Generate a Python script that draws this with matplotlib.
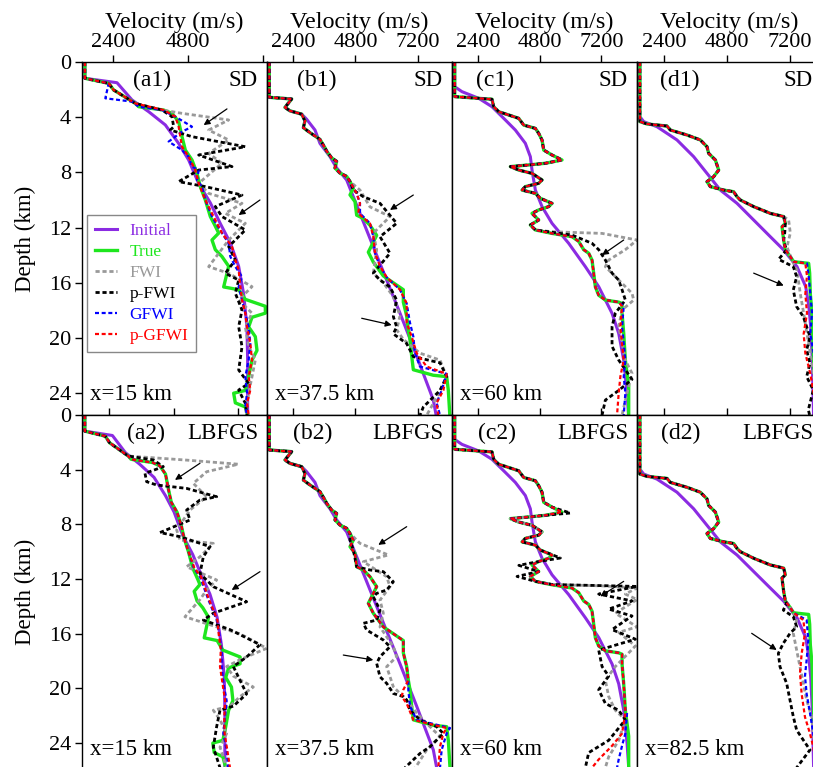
import matplotlib
matplotlib.use("Agg")
import matplotlib.pyplot as plt

plt.rcParams['font.family'] = ['Liberation Serif', 'DejaVu Serif']

# ---------------- column a (x = 15 km) ----------------
a_top_z = [0, 1.18, 1.55, 2.03, 3.0]
a_top_v = [1500, 1500, 2262, 2422, 3115]
a_mid_z = [3.24, 3.48, 3.72, 4.32, 5.41, 6.38, 7.10, 8.07, 9.03, 10.0]
a_mid_v = [3222, 4022, 4289, 4502, 4609, 4716, 4929, 5089, 5196, 5356]
a_low_z = [11.2, 11.9, 12.4, 12.9, 13.6, 14.1, 14.8, 16.3, 16.5, 17.2, 17.7, 18.2, 18.5, 19.2,
           19.9, 20.9, 21.6, 22.8, 23.8, 24.0, 24.7, 25.0, 25.8]
a_low_v = [5516, 5676, 5783, 5569, 5676, 5889, 6103, 5943, 6423, 6636, 7277, 7277, 6850, 6743,
           6956, 7010, 6850, 6743, 6636, 6263, 6316, 6636, 6743]
a_init_z = [0, 1.18, 1.5, 2.75, 3.6, 4.56, 5.9, 7.1, 8.8, 10.2, 11.7, 13.1, 14.8, 16.8, 19.2, 21.6, 25.8]
a_init_v = [1500, 1500, 2528, 3008, 3542, 4075, 4502, 4822, 5142, 5514, 5834, 6154, 6422, 6582, 6688, 6710, 6710]

a1_fwi_z = [3.48, 3.72, 4.2, 4.93, 5.65, 6.62, 7.34, 8.79, 9.52, 10.24, 10.97, 11.69, 12.9, 14.83,
            15.31, 16.28, 17.25, 18.2, 19.2, 20.6, 21.6, 22.8, 24.0, 25.6]
a1_fwi_v = [3969, 4609, 6103, 5463, 6103, 5463, 5889, 5143, 5463, 6530, 5996, 6636, 6103, 5463,
            6103, 6850, 6423, 6850, 6636, 6743, 6956, 6850, 6743, 6636]
a1_pfwi_z = [3.48, 3.96, 4.69, 4.93, 5.41, 6.14, 6.74, 7.58, 7.83, 8.67, 9.03, 9.64, 10.48, 11.2,
             12.17, 13.38, 14.35, 15.31, 15.8, 16.76, 17.97, 19.18, 20.63, 22.32, 23.3, 23.77, 24.73, 25.6]
a1_pfwi_v = [3969, 4289, 4342, 4236, 4929, 6636, 5143, 6210, 5143, 4502, 5356, 6530, 5676, 5889,
             6636, 6103, 6316, 5996, 6423, 6316, 6530, 6423, 6530, 6423, 6743, 6423, 6636, 6690]
a1_gfwi_z = [0, 1.18, 1.55, 2.63, 2.87, 3.24, 3.48, 3.96, 4.69, 5.05, 5.77, 6.38, 6.86, 7.58, 7.83,
             8.55, 9.03, 10.0, 11.2, 12.4, 13.14, 14.1, 14.83, 15.56, 16.28, 17.25, 18.2, 19.18,
             20.4, 21.6, 22.8, 24.0, 24.98, 25.6]
a1_gfwi_v = [1500, 1500, 2262, 2155, 3009, 3222, 3969, 4396, 4929, 4609, 4182, 4609, 4822, 4929, 5143,
             5089, 5249, 5356, 5569, 5889, 6103, 6156, 6316, 6530, 6423, 6530, 6636, 6743,
             6796, 6743, 6636, 6690, 6636, 6690]
a1_pgfwi_z = [3.48, 3.96, 4.69, 6.14, 6.86, 7.83, 8.79, 10.0, 11.45, 12.4, 13.38, 14.35, 15.07,
              16.28, 17.25, 18.2, 19.18, 20.4, 21.6, 22.8, 23.77, 24.73, 25.6]
a1_pgfwi_v = [4022, 4396, 4502, 4609, 4822, 5036, 5143, 5356, 5676, 5889, 6210, 6316, 6423,
              6476, 6530, 6636, 6690, 6796, 6850, 6743, 6796, 6690, 6743]

a2_fwi_z = [3.3, 3.6, 4.15, 5.0, 5.98, 6.95, 8.41, 9.15, 9.39, 10.37, 11.1, 12.07, 12.8, 13.5, 14.76,
            15.5, 16.0, 17.07, 17.9, 18.4, 19.1, 19.9, 20.6, 21.3, 21.6, 22.3, 23.3, 24.3, 25.8]
a2_fwi_v = [5289, 7211, 6033, 5537, 6033, 5413, 4917, 5041, 6281, 5785, 5289, 6405, 6033, 5785, 5227,
            6405, 7273, 8265, 7273, 6777, 7025, 7769, 7273, 6901, 6281, 6529, 6777, 6529, 6777]
a2_pfwi_z = [3.29, 3.78, 4.27, 4.88, 5.12, 5.37, 5.98, 6.22, 6.95, 7.68, 8.6, 8.9, 9.63, 10.37, 11.6,
             12.56, 13.66, 14.5, 15.0, 15.7, 16.8, 17.7, 18.4, 20.4, 21.3, 21.6, 22.8, 24.3, 25.8]
a2_pfwi_v = [4049, 4421, 3739, 3801, 4173, 5289, 6405, 5785, 5289, 5413, 4297, 5041, 6157, 5909, 5785,
             6281, 7521, 6281, 5909, 6901, 8017, 7521, 7025, 7521, 7025, 6529, 6405, 6281, 6529]
a2_gfwi_z = [11.2, 11.83, 13.5, 15.0, 16.0, 17.2, 18.4, 19.6, 20.9, 22.1, 23.3, 24.5, 25.8]
a2_gfwi_v = [5560, 5785, 6095, 6405, 6500, 6591, 6591, 6653, 6777, 6715, 6653, 6777, 6830]
a2_pgfwi_z = [11.2, 11.83, 13.5, 15.0, 16.0, 17.2, 18.4, 19.6, 20.9, 22.1, 23.3, 24.5, 25.8]
a2_pgfwi_v = [5580, 5820, 6120, 6430, 6480, 6560, 6530, 6620, 6720, 6690, 6700, 6800, 6900]

# ---------------- column b (x = 37.5 km) ----------------
b_top_z = [0, 2.56, 2.68, 3.29, 3.54, 3.78, 4.27, 4.76, 5.12, 5.61, 6.22, 6.46, 6.95, 7.2, 7.68, 8.05, 8.29, 8.66]
b_top_v = [1490, 1490, 2349, 2093, 2285, 2733, 2861, 2797, 3053, 3437, 3629, 3693, 3885, 4077, 4013, 4205, 4461, 4589]
b_low_z = [9.15, 9.63, 10.12, 11.1, 11.34, 11.83, 12.56, 13.05, 13.78, 14.5, 15.0, 15.5, 16.0, 16.5, 17.4, 18.4, 19.4]
b_low_v = [4717, 4589, 4781, 4845, 5101, 5357, 5613, 5485, 5293, 5485, 5677, 5869, 6253, 6637, 6637, 6765, 6829]
b_deep_z = [20.1, 21.3, 22.3, 22.7, 22.8, 23.8, 25.8]
b_deep_v = [6893, 6957, 7021, 7789, 8301, 8365, 8429]
b_init_z = [0, 2.56, 2.68, 3.29, 3.54, 3.78, 4.15, 4.93, 5.9, 6.86, 7.68, 8.55, 10.37, 14.0, 18.2, 21.3, 24.5, 25.8]
b_init_v = [1490, 1490, 2349, 2093, 2285, 2733, 2925, 3245, 3437, 3821, 4077, 4461, 4845, 5613, 6509, 7149, 7789, 7917]

b1_pfwi_z = [9.28, 9.76, 10.24, 11.69, 12.66, 13.86, 15.3, 15.8, 16.3, 17.25, 18.45, 19.2, 19.7, 20.4,
             21.35, 21.8, 22.8, 23.8, 25.0, 25.6]
b1_pfwi_v = [4717, 5101, 5741, 6381, 5741, 6125, 5485, 5741, 6125, 6381, 6253, 6381, 6253, 6765,
             7021, 8045, 8301, 8045, 7405, 7277]
b1_fwi_z = [9.28, 10.5, 11.2, 12.4, 13.6, 15.3, 16.0, 17.0, 18.4, 19.4, 20.1, 21.1, 21.6, 22.8, 24.3, 25.6]
b1_fwi_v = [4973, 5357, 6125, 5485, 5613, 5485, 5869, 6253, 6509, 6381, 6637, 7277, 8045, 8301, 7917, 7533]
b1_gfwi_z = [9.52, 10.24, 10.97, 11.69, 12.66, 13.86, 14.8, 15.6, 16.5, 17.5, 18.9, 19.9, 21.1, 22.07,
             22.6, 23.8, 24.7, 25.6]
b1_gfwi_v = [4845, 4973, 4973, 5357, 5485, 5549, 5741, 5997, 6509, 6765, 6893, 7021, 7085, 7277,
             8301, 8109, 7917, 8045]
b1_pgfwi_z = [9.52, 10.24, 10.97, 11.69, 12.66, 13.86, 14.8, 15.6, 16.5, 17.5, 18.9, 19.9, 21.1, 22.07,
              22.6, 23.8, 24.7, 25.6]
b1_pgfwi_v = [4845, 4973, 4900, 5357, 5485, 5549, 5741, 5997, 6509, 6765, 6765, 6957, 7149, 7533,
              8301, 8173, 7917, 7981]

b2_pfwi_z = [9.15, 9.88, 11.1, 11.34, 11.46, 12.2, 12.8, 13.05, 13.3, 14.27, 15.0, 15.24, 15.73, 16.46,
             16.95, 17.68, 18.17, 19.15, 19.63, 20.37, 20.6, 20.85, 21.6, 22.3, 22.8, 23.3, 24.27, 24.76, 25.8]
b2_pfwi_v = [4589, 4717, 4845, 5357, 5869, 6253, 5997, 5613, 5485, 5741, 5613, 5101, 5229, 5869,
             6125, 5741, 5613, 5741, 5997, 6253, 6637, 6765, 6893, 7277, 7917, 8173, 7661, 7277, 6700]
b2_fwi_z = [9.39, 10.24, 10.73, 11.83, 12.56, 13.54, 14.5, 15.5, 16.95, 17.68, 18.41, 19.88, 20.85,
            21.8, 23.05, 23.5, 24.5, 25.8]
b2_fwi_v = [4973, 6061, 5101, 5997, 6125, 5741, 5869, 5741, 6253, 6381, 5997, 6253, 6765,
            7149, 7789, 8045, 7533, 7100]
b2_gfwi_z = [20.1, 21.3, 22.3, 22.9, 23.3, 24.5, 25.8]
b2_gfwi_v = [6829, 6893, 7149, 8429, 8301, 8109, 8045]
b2_pgfwi_z = [20.1, 20.6, 21.1, 22.3, 22.9, 23.3, 24.27, 25.8]
b2_pgfwi_v = [6637, 6573, 6765, 7021, 8301, 8173, 8045, 7981]

# ---------------- column c (x = 60 km) ----------------
c_top_z = [0, 2.51, 2.7, 3.24, 3.6, 4.08, 4.57, 4.81, 5.17, 5.65, 6.38, 6.74, 7.1, 7.34, 7.46, 7.58,
           7.83, 8.07, 8.55, 8.79, 9.03, 9.28, 9.52, 9.88, 10.24, 10.48, 10.72, 10.97, 11.45, 11.81, 12.17]
c_top_v = [1493, 1493, 2945, 3010, 3205, 3983, 4178, 4632, 4761, 4891, 4956, 5280, 5669, 5021, 4372, 3659,
           3983, 4502, 4891, 4761, 4242, 4113, 4632, 4826, 5280, 5150, 4761, 4502, 4761, 4437, 4632]
c_low_z = [12.42, 12.66, 13.0, 13.6, 13.86, 14.35, 15.3, 16.3, 16.9, 17.25, 17.4]
c_low_v = [5280, 6058, 6318, 6512, 6707, 6836, 6901, 6966, 7096, 7355, 7874]
c_deep_z = [17.5, 18.2, 19.66, 21.6, 23.5, 25.8]
c_deep_v = [8004, 8004, 8069, 8133, 8263, 8263]
c_init_z = [0, 1.79, 2.15, 2.63, 3.24, 4.2, 4.93, 5.89, 6.86, 7.83, 9.28, 10.48, 11.69, 13.14, 14.83,
            16.28, 18.21, 19.66, 21.6, 24.0, 25.8]
c_init_v = [1493, 1493, 1778, 2427, 2945, 3464, 3853, 4242, 4437, 4502, 4632, 4891, 5280, 5929, 6577,
            7096, 7615, 7874, 8069, 8199, 8263]

c1_pfwi_z = [12.54, 13.14, 13.6, 14.35, 15.3, 15.8, 16.5, 17.25, 18.2, 19.18, 20.6, 21.6, 22.3, 23.0,
             23.8, 24.5, 25.6]
c1_pfwi_v = [6058, 6836, 7096, 7355, 7615, 7874, 8004, 8133, 7744, 7615, 7615, 7874, 8133, 8393,
             7874, 7355, 7226]
c1_fwi_z = [12.3, 12.42, 12.9, 13.6, 14.35, 14.83, 15.8, 16.76, 17.25, 17.97, 19.18, 20.4, 21.6, 22.56,
            23.5, 24.5, 25.6]
c1_fwi_v = [5280, 7226, 8588, 8133, 7485, 7355, 7874, 8393, 8458, 8004, 7874, 8004, 8133, 8393,
            8263, 8133, 8004]
c1_gfwi_z = [17.7, 19.2, 21.6, 22.8, 24.0, 25.6]
c1_gfwi_v = [8069, 8004, 8133, 8069, 8133, 8069]
c1_pgfwi_z = [17.7, 19.2, 20.4, 21.6, 22.8, 24.0, 25.6]
c1_pgfwi_v = [8004, 7939, 8004, 8069, 7939, 7874, 7809]

c2_pfwi_top_z = [0, 2.51, 2.7, 3.24, 3.6, 4.08, 4.57, 4.81, 5.17, 5.65, 6.38, 6.74, 7.17, 7.34, 7.46,
                 7.58, 7.83, 8.07, 8.55, 8.79, 9.03, 9.28, 9.52, 9.88, 10.46, 10.72, 11.0, 11.45, 11.81, 12.17]
c2_pfwi_top_v = [1493, 1493, 2945, 3010, 3205, 3983, 4178, 4632, 4761, 4891, 4956, 5280, 5993, 5021, 4372,
                 3659, 3983, 4502, 4891, 4761, 4242, 4113, 4632, 4826, 5604, 4761, 3990, 4761, 3920, 4632]
c2_pfwi_z = [12.4, 12.54, 13.1, 13.6, 14.2, 14.7, 15.7, 16.4, 17.2, 18.4, 19.1, 20.1, 21.1, 21.6, 22.3,
             23.8, 24.7, 25.8]
c2_pfwi_v = [5280, 8588, 7096, 8393, 7485, 8393, 7615, 8523, 7096, 7226, 7485, 7096, 7355, 7874, 8133,
             7485, 6707, 6577]
c2_fwi_z = [12.4, 12.5, 12.65, 13.1, 13.5, 14.5, 15.5, 15.9, 16.9, 18.4, 19.4, 20.6, 21.6, 22.3, 23.8, 25.0, 25.8]
c2_fwi_v = [5280, 7226, 8588, 8133, 8588, 7744, 8588, 7874, 8523, 7744, 7355, 7485, 7744, 8133, 7874, 7485, 7355]
c2_gfwi_z = [17.5, 18.2, 19.66, 21.6, 21.8, 23.3, 24.2, 25.2, 25.8]
c2_gfwi_v = [8004, 8004, 8069, 8133, 8199, 8133, 8004, 7874, 7809]
c2_pgfwi_z = [17.5, 18.2, 19.66, 21.6, 21.8, 23.3, 24.2, 25.2, 25.8]
c2_pgfwi_v = [8004, 8004, 8069, 8133, 8133, 8004, 7615, 7096, 6836]

# ---------------- column d (x = 82.5 km) ----------------
d_top_z = [0, 4.32, 4.49, 4.64, 4.93, 5.29, 5.65, 6.14, 6.62, 7.1, 7.83, 8.31, 8.67, 9.03, 9.28, 9.4,
           9.76, 10.0, 10.48, 10.97, 11.2]
d_top_v = [1480, 1480, 1752, 2514, 2641, 3276, 3784, 4038, 4102, 4356, 4483, 4292, 4038, 4165, 4673, 5054,
           5181, 5308, 5816, 6451, 6959]
d_low_z = [11.69, 11.93, 12.9, 13.6, 14.1, 14.47]
d_low_v = [7023, 6896, 6959, 7023, 7213, 7340]
d_deep_z = [14.59, 15.3, 16.8, 18.2, 20.4, 22.8, 25.8]
d_deep_v = [7912, 7950, 7975, 8039, 8080, 8120, 8150]
d_init_z = [0, 3.96, 4.32, 4.69, 5.65, 6.86, 8.07, 9.28, 10.24, 11.45, 12.66, 13.62, 14.83, 16.28,
            17.73, 19.18, 21.6, 25.8]
d_init_v = [1480, 1480, 1625, 2133, 2895, 3530, 4038, 4546, 5181, 5816, 6451, 6959, 7467, 7800,
            7920, 7990, 8050, 8100]

d1_pfwi_z = [11.69, 12.4, 13.0, 13.6, 14.3, 14.83, 15.56, 16.52, 17.73, 18.45, 19.18, 19.9, 20.87,
             21.84, 22.8, 23.77, 25.2, 25.6]
d1_pfwi_v = [7023, 7000, 6950, 7073, 6768, 7327, 7454, 7327, 7454, 7708, 7835, 7962, 7835,
             7962, 7835, 8089, 7899, 7950]
d1_fwi_z = [11.45, 12.4, 13.4, 14.35, 15.1, 16.8, 18.2, 19.7, 21.1, 22.8, 24.0, 25.6]
d1_fwi_v = [7149, 7213, 7086, 7277, 7467, 7594, 7721, 7848, 7975, 8102, 8229, 8166]
d1_pgfwi_z = [14.59, 15.5, 16.8, 18.2, 19.7, 21.1, 22.6, 24.0, 25.6]
d1_pgfwi_v = [7785, 7848, 7785, 7848, 7721, 7785, 7975, 8102, 8229]
d1_gfwi_z = [14.59, 15.5, 16.8, 18.2, 19.7, 21.1, 22.6, 24.0, 25.6]
d1_gfwi_v = [7848, 7912, 7975, 8039, 7975, 8102, 8166, 8293, 8356]

d2_pfwi_z = [11.69, 11.93, 12.9, 13.6, 13.78, 14.27, 14.76, 15.49, 15.98, 16.7, 17.44, 18.41, 19.63,
             20.85, 22.07, 23.05, 23.78, 24.5, 25.8]
d2_pfwi_v = [7023, 6896, 6959, 7023, 7073, 6946, 7327, 7454, 7200, 6946, 6756, 6819, 7073,
             7200, 7327, 7454, 7708, 7962, 7454]
d2_fwi_z = [11.69, 11.93, 12.9, 13.6, 14.0, 15.0, 15.98, 17.2, 18.41, 19.63, 20.85, 22.07, 23.3, 25.8]
d2_fwi_v = [7023, 6896, 6959, 7023, 7200, 7454, 7327, 7454, 7581, 7708, 7835, 8026, 8089, 8200]
d2_pgfwi_z = [15.0, 15.98, 17.44, 18.9, 20.4, 22.1, 23.3, 24.3, 25.8]
d2_pgfwi_v = [7708, 7772, 7645, 7581, 7645, 7772, 7962, 8089, 8200]
d2_gfwi_z = [14.6, 15.0, 16.5, 17.9, 19.1, 20.4, 21.8, 23.3, 25.8]
d2_gfwi_v = [7454, 7835, 7899, 7835, 7772, 7835, 7962, 8089, 8250]

labels = ['Initial', 'True', 'FWI', 'p-FWI', 'GFWI', 'p-GFWI']
vel_ticks = [2400, 4800, 7200]
depth_ticks = [0, 4, 8, 12, 16, 20, 24]

styles = {
    'Initial': dict(color='#8b2be2', lw=2.2, ls='-'),
    'True': dict(color='#1ee61e', lw=2.4, ls='-'),
    'FWI': dict(color='#999999', lw=2.0, ls=(0, (1.5, 1.0))),
    'p-FWI': dict(color='black', lw=2.0, ls=(0, (1.5, 1.0))),
    'GFWI': dict(color='#0000ff', lw=1.6, ls=(0, (1.8, 1.2))),
    'p-GFWI': dict(color='#ff0000', lw=1.6, ls=(0, (1.8, 1.2))),
}

a_true = (a_top_z + a_mid_z + a_low_z, a_top_v + a_mid_v + a_low_v)
b_true = (b_top_z + b_low_z + b_deep_z, b_top_v + b_low_v + b_deep_v)
c_true = (c_top_z + c_low_z + c_deep_z, c_top_v + c_low_v + c_deep_v)
d_true = (d_top_z + d_low_z + d_deep_z, d_top_v + d_low_v + d_deep_v)

panels = [
    # col, row, xlim, tick labels, series, tag, tag_x, method, position, arrows
    dict(c=0, r=0, xlim=(1408, 7330), tl=['2400', '4800', ''], tag='(a1)', tx=0.378, meth='SD', pos='x=15 km',
         s=[(a_init_z, a_init_v), a_true, (a_top_z + a1_fwi_z, a_top_v + a1_fwi_v),
            (a_top_z + a1_pfwi_z, a_top_v + a1_pfwi_v), (a1_gfwi_z, a1_gfwi_v),
            (a_top_z + a1_pgfwi_z, a_top_v + a1_pgfwi_v)],
         arrows=[((6048, 3.4), (5302, 4.57)), ((7104, 10.0), (6422, 11.09))]),
    dict(c=1, r=0, xlim=(1402, 8506), tl=['2400', '4800', '7200'], tag='(b1)', tx=0.27, meth='SD', pos='x=37.5 km',
         s=[(b_init_z, b_init_v), b_true, (b_top_z + b1_fwi_z, b_top_v + b1_fwi_v),
            (b_top_z + b1_pfwi_z, b_top_v + b1_pfwi_v), (b_top_z + b1_gfwi_z, b_top_v + b1_gfwi_v),
            (b_top_z + b1_pgfwi_z, b_top_v + b1_pgfwi_v)],
         arrows=[((7020, 9.64), (6125, 10.72)), ((5038, 18.57), (6190, 19.06))]),
    dict(c=2, r=0, xlim=(1389, 8586), tl=['2400', '4800', '7200'], tag='(c1)', tx=0.234, meth='SD', pos='x=60 km',
         s=[(c_init_z, c_init_v), c_true, (c_top_z + c1_fwi_z, c_top_v + c1_fwi_v),
            (c_top_z + c1_pfwi_z, c_top_v + c1_pfwi_v), (c_top_z + c_low_z + c1_gfwi_z, c_top_v + c_low_v + c1_gfwi_v),
            (c_top_z + c_low_z + c1_pgfwi_z, c_top_v + c_low_v + c1_pgfwi_v)],
         arrows=[((8068, 12.9), (7224, 13.99))]),
    dict(c=3, r=0, xlim=(1371, 8420), tl=['2400', '4800', '7200'], tag='(d1)', tx=0.232, meth='SD', pos='',
         s=[(d_init_z, d_init_v), d_true, (d_top_z + d1_fwi_z, d_top_v + d1_fwi_v),
            (d_top_z + d1_pfwi_z, d_top_v + d1_pfwi_v), (d_top_z + d_low_z + d1_gfwi_z, d_top_v + d_low_v + d1_gfwi_v),
            (d_top_z + d_low_z + d1_pgfwi_z, d_top_v + d_low_v + d1_pgfwi_v)],
         arrows=[((5817, 15.3), (6960, 16.2))]),
    dict(c=0, r=1, xlim=(1396, 8278), tl=None, tag='(a2)', tx=0.346, meth='LBFGS', pos='x=15 km',
         s=[(a_init_z, a_init_v), a_true, (a_top_z + a2_fwi_z, a_top_v + a2_fwi_v),
            (a_top_z + a2_pfwi_z, a_top_v + a2_pfwi_v),
            (a_top_z + a_mid_z + a2_gfwi_z, a_top_v + a_mid_v + a2_gfwi_v),
            (a_top_z + a_mid_z + a2_pgfwi_z, a_top_v + a_mid_v + a2_pgfwi_v)],
         arrows=[((5785, 3.53), (4855, 4.75)), ((8017, 11.46), (6964, 12.8))]),
    dict(c=1, r=1, xlim=(1402, 8506), tl=None, tag='(b2)', tx=0.245, meth='LBFGS', pos='x=37.5 km',
         s=[(b_init_z, b_init_v), b_true, (b_top_z + b2_fwi_z, b_top_v + b2_fwi_v),
            (b_top_z + b2_pfwi_z, b_top_v + b2_pfwi_v),
            (b_top_z + b_low_z + b2_gfwi_z, b_top_v + b_low_v + b2_gfwi_v),
            (b_top_z + b_low_z + b2_pgfwi_z, b_top_v + b_low_v + b2_pgfwi_v)],
         arrows=[((6766, 8.17), (5676, 9.5)), ((4332, 17.56), (5484, 17.92))]),
    dict(c=2, r=1, xlim=(1389, 8586), tl=None, tag='(c2)', tx=0.243, meth='LBFGS', pos='x=60 km',
         s=[(c_init_z, c_init_v), c_true, (c_top_z + c2_fwi_z, c_top_v + c2_fwi_v),
            (c2_pfwi_top_z + c2_pfwi_z, c2_pfwi_top_v + c2_pfwi_v),
            (c_top_z + c_low_z + c2_gfwi_z, c_top_v + c_low_v + c2_gfwi_v),
            (c_top_z + c_low_z + c2_pgfwi_z, c_top_v + c_low_v + c2_pgfwi_v)],
         arrows=[((8068, 12.17), (7158, 13.27))]),
    dict(c=3, r=1, xlim=(1371, 8420), tl=None, tag='(d2)', tx=0.237, meth='LBFGS', pos='x=82.5 km',
         s=[(d_init_z, d_init_v), d_true, (d_top_z + d2_fwi_z, d_top_v + d2_fwi_v),
            (d_top_z + d2_pfwi_z, d_top_v + d2_pfwi_v),
            (d_top_z + d_low_z + d2_gfwi_z, d_top_v + d_low_v + d2_gfwi_v),
            (d_top_z + d_low_z + d2_pgfwi_z, d_top_v + d_low_v + d2_pgfwi_v)],
         arrows=[((5741, 15.97), (6693, 17.19))]),
]

W, H = 813, 767
fig = plt.figure(figsize=(W / 100, H / 100), dpi=100)
col_left = [82, 267, 452, 637]
col_w = 185
row_top = [62, 415]
row_h = 353
ylims = [(353 / 13.8, 0), (353 / 13.67, 0)]

FS = 16
for p in panels:
    c, r = p['c'], p['r']
    ax = fig.add_axes([col_left[c] / W, 1 - (row_top[r] + row_h) / H, col_w / W, row_h / H])
    for (z, v), lab in zip(p['s'], labels):
        st = styles[lab]
        ax.plot(v, z, color=st['color'], lw=st['lw'], ls=st['ls'], label=lab)
    ax.set_xlim(*p['xlim'])
    ax.set_ylim(*ylims[r])
    ax.xaxis.tick_top()
    ax.set_xticks(vel_ticks)
    if p['tl'] is not None:
        ax.set_xticklabels(p['tl'])
        ax.xaxis.set_label_position('top')
        ax.set_xlabel('Velocity (m/s)', fontsize=17.5, labelpad=4)
    else:
        ax.set_xticklabels([])
    ax.tick_params(axis='x', direction='out', length=5, width=1, labelsize=FS, pad=2)
    if c == 0:
        ax.set_yticks(depth_ticks)
        ax.tick_params(axis='y', direction='out', length=5, width=1, labelsize=FS, pad=3)
        ax.set_ylabel('Depth (km)', fontsize=16.5, labelpad=9)
    else:
        ax.set_yticks([])
    for sp in ax.spines.values():
        sp.set_linewidth(1.0)
    ax.text(p['tx'], 0.949, p['tag'], transform=ax.transAxes, ha='center', va='center', fontsize=17)
    ax.text(0.951, 0.949, p['meth'], transform=ax.transAxes, ha='right', va='center', fontsize=16.5)
    if p['pos']:
        ax.text(0.043, 0.058 if r == 0 else 0.051, p['pos'], transform=ax.transAxes,
                ha='left', va='center', fontsize=16.5)
    for tail, head in p['arrows']:
        ax.annotate('', xy=head, xytext=tail,
                    arrowprops=dict(arrowstyle='-|>', color='black', lw=0.9,
                                    mutation_scale=9, shrinkA=0, shrinkB=0))
    if c == 0 and r == 0:
        ax.legend(loc='upper left', bbox_to_anchor=(0.027, 0.567), fontsize=12.5,
                  labelcolor='linecolor', fancybox=False, edgecolor='#888888', framealpha=1,
                  handlelength=1.3, handletextpad=0.7, labelspacing=0.28, borderpad=0.45,
                  borderaxespad=0)

fig.savefig('out.png', dpi=100)
